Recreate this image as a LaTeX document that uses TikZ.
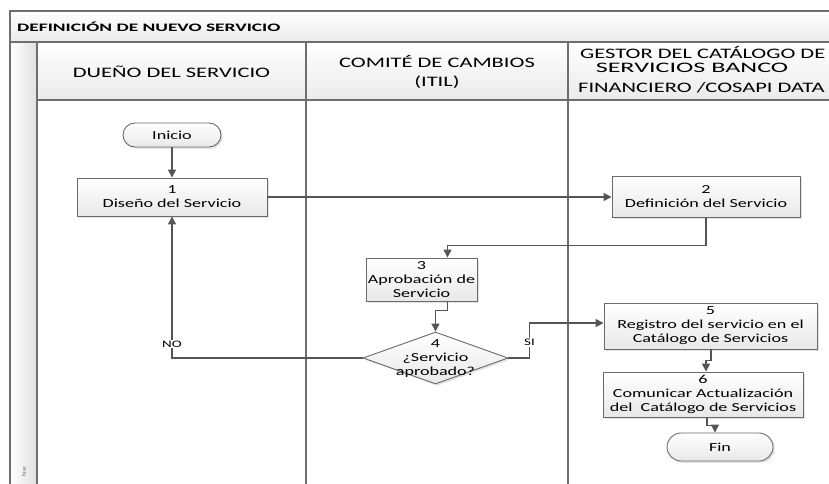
\documentclass[tikz,border=0pt]{standalone}
\usepackage{fontspec}
\setmainfont{Carlito}
\newfontfamily\hdrfont[FakeStretch=1.55]{Carlito}
\newfontfamily\hdrwidefont[FakeStretch=1.8]{Carlito}
\newfontfamily\boxfont[FakeStretch=1.47]{Carlito}
\newfontfamily\ttlfont[FakeStretch=1.7]{Carlito}
\newfontfamily\lblfont[FakeStretch=1.5]{Carlito}
\usetikzlibrary{shapes.geometric,arrows.meta,shadows}
\definecolor{linec}{HTML}{555555}
\definecolor{framec}{HTML}{6E6E6E}
\definecolor{boxc}{HTML}{6A6A6A}
\tikzset{
  frameline/.style={draw=framec, line width=1.2pt},
  shapebase/.style={draw=boxc, line width=0.9pt, top color=white, bottom color=black!9,
     drop shadow={shadow xshift=1.8pt, shadow yshift=-1.8pt, fill=black!22},
     align=center, inner sep=0pt, text=black, font=\boxfont\fontsize{12.3}{14}\selectfont},
  procbox/.style={shapebase, rectangle},
  termbox/.style={shapebase, rectangle, rounded corners=12pt},
  decbox/.style={shapebase, diamond},
  conn/.style={draw=linec, line width=1.3pt},
  arr/.style={conn, -{Triangle[length=8pt,width=8pt]}},
  lbl/.style={fill=white, inner sep=1pt, font=\lblfont\fontsize{10}{12}\selectfont},
  hdr/.style={font=\hdrfont\fontsize{14.5}{17}\selectfont, inner sep=0pt}
}
\begin{document}
\begin{tikzpicture}[x=1pt,y=-1pt]
\useasboundingbox (0,0) rectangle (829,483);
\clip (0,0) rectangle (829,483);
% pool background
\shade[top color=white, bottom color=black!8] (10,11) rectangle (850,42);
\shade[top color=white, bottom color=black!8] (37,42) rectangle (850,100);
\shade[left color=white, right color=black!12] (10,42) rectangle (37,500);
\draw[frameline] (10,500) -- (10,11) -- (850,11);
\draw[frameline] (10,42) -- (850,42);
\draw[frameline] (37,42) -- (37,500);
\draw[frameline] (37,100) -- (850,100);
\draw[frameline] (306,42) -- (306,500);
\draw[frameline] (568,42) -- (568,500);
% titles
\node[anchor=west, inner sep=0pt, font=\ttlfont\bfseries\fontsize{11.4}{13}\selectfont] (title) at (17,27) {DEFINICIÓN DE NUEVO SERVICIO};
\node[hdr] (h1) at (171.5,72) {DUEÑO DEL SERVICIO};
\node[hdr, align=center] (h2) at (437,72) {COMITÉ DE CAMBIOS\\[2pt](ITIL)};
\node[hdr, anchor=west] (h3a) at (580,52) {GESTOR DEL CATÁLOGO DE};
\node[hdr, font=\hdrwidefont\fontsize{14.5}{17}\selectfont] (h3b) at (692,68) {SERVICIOS BANCO};
\node[hdr, anchor=west] (h3c) at (578,88) {FINANCIERO /COSAPI DATA};
\node[rotate=90, inner sep=0pt, font=\fontsize{5}{6}\selectfont, text=black!70] (fase) at (24,472) {Fase};
% shapes
\node[termbox, minimum width=98pt, minimum height=24pt] (ini) at (172,135) {Inicio};
\node[procbox, minimum width=190pt, minimum height=38pt] (b1) at (172,197) {1\\Diseño del Servicio};
\node[procbox, minimum width=188pt, minimum height=41pt] (b2) at (706,196.5) {2\\Definición del Servicio};
\node[procbox, minimum width=111pt, minimum height=43pt] (b3) at (421.5,279.5) {3\\Aprobación de\\Servicio};
\node[decbox, minimum width=145pt, minimum height=52pt] (d4) at (435.5,358) {};
\node[align=center, inner sep=0pt, font=\boxfont\fontsize{12.3}{14}\selectfont] (d4t) at (435.5,359) {4\\¿Servicio\\aprobado?};
\node[procbox, minimum width=213pt, minimum height=46pt] (b5) at (710.5,326) {5\\Registro del servicio en el\\Catálogo de Servicios};
\node[procbox, minimum width=200pt, minimum height=45pt] (b6) at (703,394.5) {6\\Comunicar Actualización\\del~ Catálogo de Servicios};
\node[termbox, rounded corners=14pt, minimum width=106pt, minimum height=28pt] (fin) at (720,447) {Fin};
% connectors
\draw[arr] (ini) -- (b1);
\draw[arr] (b1.east) -- (b1.east -| b2.west);
\draw[arr] (b2.south) |- ([xshift=26pt, yshift=12pt]b3.north) -- ([xshift=26pt]b3.north);
\draw[arr] ([xshift=26pt]b3.south) -- ++(0,9) -| (d4.north);
\draw[arr] (d4.east) -- ++(21,0) |- ([yshift=3pt]b5.west) node[lbl, pos=0.22] {SI};
\draw[arr] (d4.west) -| (b1.south) node[lbl, pos=0.55] {NO};
\draw[arr] ([xshift=0.5pt]b5.south) -- ++(0,11) -| ([xshift=3pt]b6.north);
\draw[arr] ([xshift=4pt]b6.south) -- ++(0,8) -| ([xshift=-5pt]fin.north);
\end{tikzpicture}
\end{document}
